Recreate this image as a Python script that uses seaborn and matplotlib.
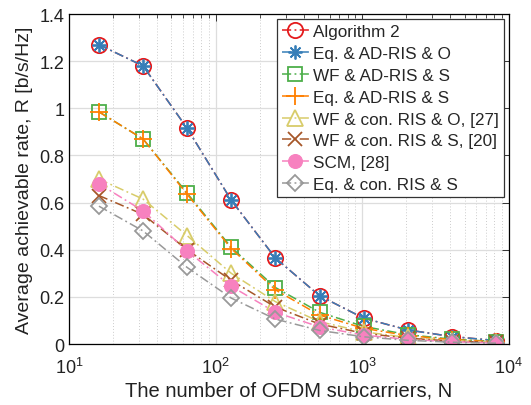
import numpy as np
import pandas as pd
import matplotlib
matplotlib.use("Agg")
import matplotlib.pyplot as plt
import seaborn as sns
from matplotlib.ticker import LogLocator, NullFormatter

N = [16, 32, 64, 128, 256, 512, 1024, 2048, 4096, 8192]
labels = ["Algorithm 2", "Eq. & AD-RIS & O", "WF & AD-RIS & S", "Eq. & AD-RIS & S",
          "WF & con. RIS & O, [27]", "WF & con. RIS & S, [20]", "SCM, [28]", "Eq. & con. RIS & S"]
alg2 = [1.27, 1.18, 0.915, 0.61, 0.365, 0.205, 0.11, 0.060, 0.032, 0.015]
eq_ad_o = [1.27, 1.18, 0.915, 0.61, 0.365, 0.205, 0.11, 0.060, 0.032, 0.015]
wf_ad_s = [0.985, 0.87, 0.64, 0.41, 0.24, 0.135, 0.075, 0.040, 0.021, 0.011]
eq_ad_s = [0.985, 0.87, 0.635, 0.405, 0.23, 0.123, 0.067, 0.036, 0.019, 0.010]
wf_con_o = [0.70, 0.615, 0.46, 0.30, 0.18, 0.095, 0.052, 0.028, 0.015, 0.008]
wf_con_s = [0.63, 0.55, 0.40, 0.27, 0.157, 0.085, 0.046, 0.025, 0.013, 0.007]
scm = [0.68, 0.565, 0.395, 0.245, 0.135, 0.073, 0.038, 0.020, 0.010, 0.005]
eq_con_s = [0.585, 0.48, 0.325, 0.195, 0.106, 0.058, 0.031, 0.016, 0.008, 0.004]
series = [alg2, eq_ad_o, wf_ad_s, eq_ad_s, wf_con_o, wf_con_s, scm, eq_con_s]

colors = ["#E41A1C", "#377EB8", "#4DAF4A", "#FF7F00", "#D8CC6A", "#A65628", "#F781BF", "#999999"]
markers = ["o", (8, 2, 0), "s", "+", "^", "x", "o", "D"]
msizes = [11, 10, 10, 13, 11, 10, 10, 8.5]
filled = [False, False, False, False, False, False, True, False]

sns.set_theme(style="white")
plt.rcParams['font.family'] = ['Liberation Sans', 'DejaVu Sans']
plt.rcParams['mathtext.fontset'] = 'custom'
plt.rcParams['mathtext.rm'] = 'Liberation Sans'

fig = plt.figure(figsize=(5.31, 4.06), dpi=100)
ax = fig.add_axes([0.130, 0.150, 0.828, 0.813])

for lab, vals, c, m, ms, f in zip(labels, series, colors, markers, msizes, filled):
    df = pd.DataFrame({"N": N, "R": vals})
    kw = dict(color=c, marker=m, markersize=ms, linewidth=1.1, label=lab)
    if f:
        kw.update(markerfacecolor=c, markeredgecolor=c, markeredgewidth=0.8)
    elif m in ("+", "x") or isinstance(m, tuple):
        kw.update(markeredgecolor=c, markeredgewidth=1.3)
    else:
        kw.update(markerfacecolor="none", markeredgecolor=c, markeredgewidth=1.3)
    sns.lineplot(data=df, x="N", y="R", ax=ax, **kw)

for line in ax.get_lines():
    line.set_dashes((6, 2.2, 1.2, 2.2))

ax.set_xscale("log")
ax.set_xlim(10, 1e4)
ax.set_ylim(0, 1.4)
ax.set_yticks([0, 0.2, 0.4, 0.6, 0.8, 1, 1.2, 1.4])
ax.set_yticklabels(["0", "0.2", "0.4", "0.6", "0.8", "1", "1.2", "1.4"])
ax.xaxis.set_major_locator(LogLocator(base=10))
ax.xaxis.set_minor_locator(LogLocator(base=10, subs=np.arange(2, 10)))
ax.xaxis.set_minor_formatter(NullFormatter())

ax.grid(True, which="major", color="#dddddd", linewidth=0.9, linestyle="-")
ax.grid(True, which="minor", axis="x", color="#cccccc", linewidth=0.7, linestyle=(0, (1, 2)))
ax.set_axisbelow(True)
for s in ax.spines.values():
    s.set_color("black")
    s.set_linewidth(0.9)
ax.tick_params(which="both", direction="in", top=True, right=True, color="#333333",
               labelsize=13, labelcolor="#222222")
ax.tick_params(which="major", length=5, width=0.7)
ax.tick_params(which="minor", length=3, width=0.6)
ax.tick_params(axis="x", pad=9)

ax.set_xlabel("The number of OFDM subcarriers, N", fontsize=14.5, color="#222222", labelpad=3)
ax.set_ylabel("Average achievable rate, R [b/s/Hz]", fontsize=14, color="#222222")

leg = ax.legend(loc="upper right", fontsize=12.3, frameon=True, fancybox=False,
                edgecolor="#333333", framealpha=1, handlelength=1.6, handletextpad=0.2,
                labelspacing=0.4, borderaxespad=0.3, borderpad=0.3)
leg.get_frame().set_linewidth(0.9)

fig.savefig("out.png", dpi=100)
